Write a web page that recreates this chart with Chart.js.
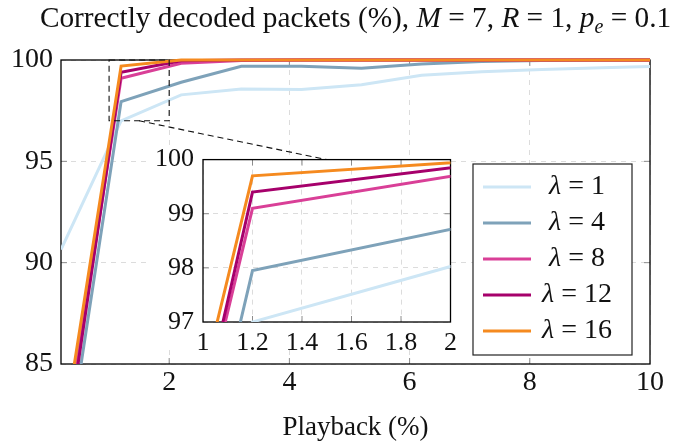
<!DOCTYPE html>
<html>
<head>
<meta charset="utf-8">
<script src="https://cdn.jsdelivr.net/npm/chart.js@4.4.1/dist/chart.umd.min.js"></script>
<style>
    body { margin: 0; background: #fff; }
    #wrap { position: relative; width: 681px; height: 447px; font-family: "Liberation Serif", "Times New Roman", Tinos, "DejaVu Serif", serif; color: #111; }
    #title { position: absolute; left: 30px; top: 0; width: 651px; text-align: center; font-size: 29.3px; line-height: 34px; white-space: nowrap; }
    #title sub { font-size: 20px; vertical-align: -6px; line-height: 0; }
    #mainChart { position: absolute; left: 0; top: 0; }
    #insetChart { position: absolute; left: 148px; top: 135px; }
</style>
</head>
<body>
<div id="wrap">
    <canvas id="mainChart" width="681" height="447"></canvas>
    <canvas id="insetChart" width="315" height="225"></canvas>
    <div id="title">Correctly decoded packets (%), <i>M</i> = 7, <i>R</i> = 1, <i>p<sub>e</sub></i> = 0.1</div>
</div>
<script>
// playback (%) on x, correctly decoded packets (%) on y
const playback = [0.2, 1.2, 2.2, 3.2, 4.2, 5.2, 6.2, 7.2, 8.2, 9.2, 10];
const lambdaLabels = ['1', '4', '8', '12', '16'];
const lambda1 = [90.65, 97.0, 98.28, 98.57, 98.55, 98.78, 99.25, 99.42, 99.53, 99.62, 99.68];
const lambda4 = [78.5, 97.95, 98.9, 99.69, 99.69, 99.59, 99.8, 99.93, 99.98, 100, 100];
const lambda8 = [80.0, 99.1, 99.84, 99.97, 100, 100, 100, 100, 100, 100, 100];
const lambda12 = [79.3, 99.4, 99.96, 100, 100, 100, 100, 100, 100, 100, 100];
const lambda16 = [80.8, 99.7, 100, 100, 100, 100, 100, 100, 100, 100, 100];

const mainXTicks = [2, 4, 6, 8, 10];
const mainYTicks = [85, 90, 95, 100];
const insetXTicks = [1, 1.2, 1.4, 1.6, 1.8, 2];
const insetYTicks = [97, 98, 99, 100];

const seriesColors = ['#cde6f5', '#7ea2b9', '#d93f97', '#a6006b', '#f58a1f'];
const FONT = '"Liberation Serif", "Times New Roman", Tinos, "DejaVu Serif", serif';

function makeDatasets(clip) {
    const series = [lambda1, lambda4, lambda8, lambda12, lambda16];
    return series.map((values, i) => ({
        label: 'λ = ' + lambdaLabels[i],
        data: playback.map((x, j) => ({ x: x, y: values[j] })),
        borderColor: seriesColors[i],
        backgroundColor: seriesColors[i],
        borderWidth: 3,
        pointRadius: 0,
        tension: 0,
        fill: false,
        order: series.length - 1 - i, // later lambdas on top
        clip: clip
    }));
}

function axis(min, max, tickValues, opts) {
    return {
        type: 'linear',
        min: min,
        max: max,
        afterBuildTicks: scale => { scale.ticks = tickValues.map(v => ({ value: v })); },
        afterFit: opts.fit,
        grid: { color: '#dcdcdc', lineWidth: 1, drawTicks: false },
        border: { display: false, dash: [5, 5] },
        ticks: {
            color: '#111',
            padding: opts.padding,
            font: { family: FONT, size: opts.size },
            callback: v => String(v)
        },
        title: opts.title || { display: false }
    };
}

// black frame plus small inward tick marks, under the lines
const framePlugin = {
    id: 'frame',
    beforeDatasetsDraw(chart) {
        const { ctx, chartArea: a, scales } = chart;
        ctx.save();
        ctx.setLineDash([]);
        ctx.strokeStyle = '#8c8c8c';
        ctx.lineWidth = 1;
        ctx.beginPath();
        scales.x.ticks.forEach(t => {
            const px = scales.x.getPixelForValue(t.value);
            if (px <= a.left + 1 || px >= a.right - 1) return;
            ctx.moveTo(px, a.top); ctx.lineTo(px, a.top + 6);
            ctx.moveTo(px, a.bottom); ctx.lineTo(px, a.bottom - 6);
        });
        scales.y.ticks.forEach(t => {
            const py = scales.y.getPixelForValue(t.value);
            if (py <= a.top + 1 || py >= a.bottom - 1) return;
            ctx.moveTo(a.left, py); ctx.lineTo(a.left + 6, py);
            ctx.moveTo(a.right, py); ctx.lineTo(a.right - 6, py);
        });
        ctx.stroke();
        ctx.strokeStyle = '#000';
        ctx.lineWidth = 1.3;
        ctx.strokeRect(a.left, a.top, a.width, a.height);
        ctx.restore();
    }
};

// white fill behind the inset plot and its tick labels
const insetBackground = {
    id: 'insetBackground',
    beforeDraw(chart) {
        const { ctx, chartArea: a, width } = chart;
        ctx.save();
        ctx.fillStyle = '#fff';
        ctx.fillRect(0, a.top - 14, a.left, a.bottom - a.top + 14);
        ctx.fillRect(a.left, a.top, a.width, a.height);
        ctx.fillRect(0, a.bottom, width, 28);
        ctx.restore();
    }
};

const insetCanvas = document.getElementById('insetChart');
const insetChart = new Chart(insetCanvas, {
    type: 'line',
    data: { datasets: makeDatasets(0) },
    options: {
        responsive: false,
        animation: false,
        layout: { padding: 0 },
        plugins: { legend: { display: false }, tooltip: { enabled: false } },
        scales: {
            x: axis(insetXTicks[0], insetXTicks[insetXTicks.length - 1], insetXTicks,
                { size: 26, padding: 6, fit: s => { s.height = 38; } }),
            y: axis(insetYTicks[0], insetYTicks[insetYTicks.length - 1], insetYTicks,
                { size: 26, padding: 9, fit: s => { s.width = 55; } })
        }
    },
    plugins: [insetBackground, framePlugin]
});

// dashed box on the zoomed region and the line to the inset
const zoomPlugin = {
    id: 'zoomBox',
    afterDatasetsDraw(chart) {
        const { ctx, scales } = chart;
        const x0 = scales.x.getPixelForValue(insetXTicks[0]);
        const x1 = scales.x.getPixelForValue(insetXTicks[insetXTicks.length - 1]);
        const y0 = scales.y.getPixelForValue(insetYTicks[insetYTicks.length - 1]);
        const y1 = scales.y.getPixelForValue(insetYTicks[0]);
        const midVal = (insetXTicks[0] + insetXTicks[insetXTicks.length - 1]) / 2;
        const endX = insetCanvas.offsetLeft + insetChart.scales.x.getPixelForValue(midVal);
        const endY = insetCanvas.offsetTop + insetChart.chartArea.top;
        ctx.save();
        ctx.strokeStyle = '#111';
        ctx.lineWidth = 1.1;
        ctx.setLineDash([6, 4]);
        ctx.strokeRect(x0, y0, x1 - x0, y1 - y0);
        ctx.beginPath();
        ctx.moveTo(scales.x.getPixelForValue(midVal), y1);
        ctx.lineTo(endX, endY);
        ctx.stroke();
        ctx.restore();
    }
};

const legendPlugin = {
    id: 'boxLegend',
    afterDraw(chart) {
        const { ctx, chartArea: a } = chart;
        const sets = chart.data.datasets;
        const boxW = 159, boxH = 191, rowH = 36;
        const left = a.right - 18 - boxW;
        const top = a.bottom - 9 - boxH;
        ctx.save();
        ctx.fillStyle = '#fff';
        ctx.fillRect(left, top, boxW, boxH);
        ctx.strokeStyle = '#222';
        ctx.lineWidth = 1.2;
        ctx.strokeRect(left, top, boxW, boxH);
        sets.forEach((ds, i) => {
            const cy = top + 23 + i * rowH;
            ctx.strokeStyle = ds.borderColor;
            ctx.lineWidth = 3;
            ctx.beginPath();
            ctx.moveTo(left + 10, cy);
            ctx.lineTo(left + 58, cy);
            ctx.stroke();
            const parts = ds.label.split(' = ');
            const rest = ' = ' + parts[1];
            ctx.font = 'italic 28px ' + FONT;
            const w1 = ctx.measureText(parts[0]).width;
            ctx.font = '28px ' + FONT;
            const w2 = ctx.measureText(rest).width;
            const x = left + 104 - (w1 + w2) / 2;
            ctx.fillStyle = '#111';
            ctx.textBaseline = 'middle';
            ctx.font = 'italic 28px ' + FONT;
            ctx.fillText(parts[0], x, cy);
            ctx.font = '28px ' + FONT;
            ctx.fillText(rest, x + w1, cy);
        });
        ctx.restore();
    }
};

new Chart(document.getElementById('mainChart'), {
    type: 'line',
    data: { datasets: makeDatasets({ left: 0, right: 0, bottom: 0, top: 3 }) },
    options: {
        responsive: false,
        animation: false,
        layout: { padding: { top: 60, right: 31, left: 0, bottom: 0 } },
        plugins: { legend: { display: false }, tooltip: { enabled: false } },
        scales: {
            x: axis(0.2, 10, mainXTicks, {
                size: 28, padding: 2, fit: s => { s.height = 83; },
                title: {
                    display: true,
                    text: 'Playback (%)',
                    color: '#111',
                    font: { family: FONT, size: 27 },
                    padding: { top: 0, bottom: 3 }
                }
            }),
            y: axis(85, 100, mainYTicks, { size: 28, padding: 8, fit: s => { s.width = 61; } })
        }
    },
    plugins: [framePlugin, zoomPlugin, legendPlugin]
});
</script>
</body>
</html>
